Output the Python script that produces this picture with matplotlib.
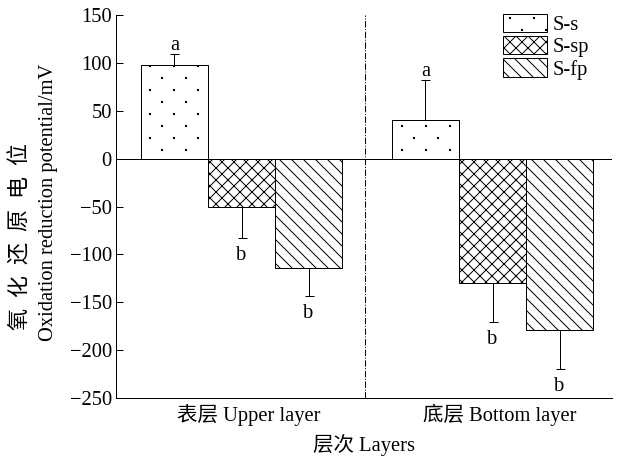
import numpy as np
import matplotlib
matplotlib.use("Agg")
import matplotlib.pyplot as plt
import matplotlib.hatch as mhatch
from matplotlib.path import Path

plt.rcParams['font.family'] = ['Liberation Serif', 'Noto Sans CJK SC']
plt.rcParams['hatch.linewidth'] = 1.0
plt.rcParams['axes.unicode_minus'] = True


# 稀疏点状填充：行内点距为行距的两倍，相邻行错开半格
class SparseDots(mhatch.HatchPatternBase):
    rows, cols, half = 6, 3, 0.008

    def __init__(self, hatch, density):
        self.num_vertices = self.rows * self.cols * 5 if '.' in hatch else 0

    def set_vertices_and_codes(self, vertices, codes):
        sq = np.array([[-1, -1], [1, -1], [1, 1], [-1, 1], [-1, -1]]) * self.half
        k = 0
        for r in range(self.rows):
            y = (r + 0.5) / self.rows
            for c in range(self.cols):
                xx = (c + 0.25 + 0.5 * (r % 2)) / self.cols
                vertices[k:k + 5] = sq + (xx, y)
                codes[k:k + 5] = [Path.MOVETO, Path.LINETO, Path.LINETO,
                                  Path.LINETO, Path.CLOSEPOLY]
                k += 5


mhatch._hatch_types = [SparseDots if t is mhatch.SmallFilledCircles else t
                       for t in mhatch._hatch_types]

# 数据
groups = ['表层 Upper layer', '底层 Bottom layer']
series = ['S-s', 'S-sp', 'S-fp']
hatches = ['.', 'xx', '\\\\']
values = {
    'S-s': [98, 40],
    'S-sp': [-51, -130],
    'S-fp': [-114, -179],
}
errors = {
    'S-s': [11, 42],
    'S-sp': [32, 41],
    'S-fp': [29, 41],
}
letters = {
    'S-s': ['a', 'a'],
    'S-sp': ['b', 'b'],
    'S-fp': ['b', 'b'],
}

FS = 20.5
fig = plt.figure(figsize=(618 / 72, 459 / 72), dpi=72)
ax = fig.add_axes([116 / 618, 61 / 459, 496 / 618, 383 / 459])

x = np.arange(len(groups))
width = 0.267

for i, name in enumerate(series):
    pos = x + (i - 1) * width
    vals = np.array(values[name])
    errs = np.array(errors[name])
    ax.bar(pos, vals, width, color='white', edgecolor='black', linewidth=1.0,
           hatch=hatches[i], label=name, zorder=2)
    # 单侧误差线
    lower = np.where(vals < 0, errs, 0)
    upper = np.where(vals > 0, errs, 0)
    ax.errorbar(pos, vals, yerr=[lower, upper], fmt='none', ecolor='black',
                elinewidth=1.0, capsize=4.5, capthick=1.0, zorder=3)
    for p, v, e, t in zip(pos, vals, errs, letters[name]):
        if v > 0:
            ax.annotate(t, (p, v + e), xytext=(0, -1), textcoords='offset points',
                        ha='center', va='bottom', fontsize=FS)
        else:
            ax.annotate(t, (p, v - e), xytext=(0, -8), textcoords='offset points',
                        ha='center', va='top', fontsize=FS)

ax.axhline(0, color='black', linewidth=1.0, zorder=4)
ax.axvline(0.49, color='black', linewidth=1.0, linestyle='-.', zorder=1)

ax.set_xlim(-0.5, 1.476)
ax.set_ylim(-250, 150)
ax.set_yticks(np.arange(-250, 151, 50))
ax.set_xticks(x + 0.03)
ax.set_xticklabels(groups, fontsize=FS)
ax.tick_params(axis='y', direction='in', length=7, width=1.0, pad=4, labelsize=FS)
ax.tick_params(axis='x', length=0, pad=6)
ax.spines['top'].set_visible(False)
ax.spines['right'].set_visible(False)
for s in ['left', 'bottom']:
    ax.spines[s].set_linewidth(1.0)

ax.set_xlabel('层次 Layers', fontsize=FS, labelpad=8)
fig.text(21 / 618, 1 - 236 / 459, '\u2002'.join('氧化还原电位'), rotation=90,
         ha='center', va='center', fontsize=22)
fig.text(49 / 618, 1 - 202 / 459, 'Oxidation reduction potential/mV', rotation=90,
         ha='center', va='center', fontsize=FS)

ax.legend(loc='upper left', bbox_to_anchor=(0.78, 1.002), frameon=False,
          fontsize=FS, handlelength=2.15, handleheight=0.98, handletextpad=0.3,
          labelspacing=0.05, borderpad=0, borderaxespad=0)

fig.savefig('out.png', dpi=72)
